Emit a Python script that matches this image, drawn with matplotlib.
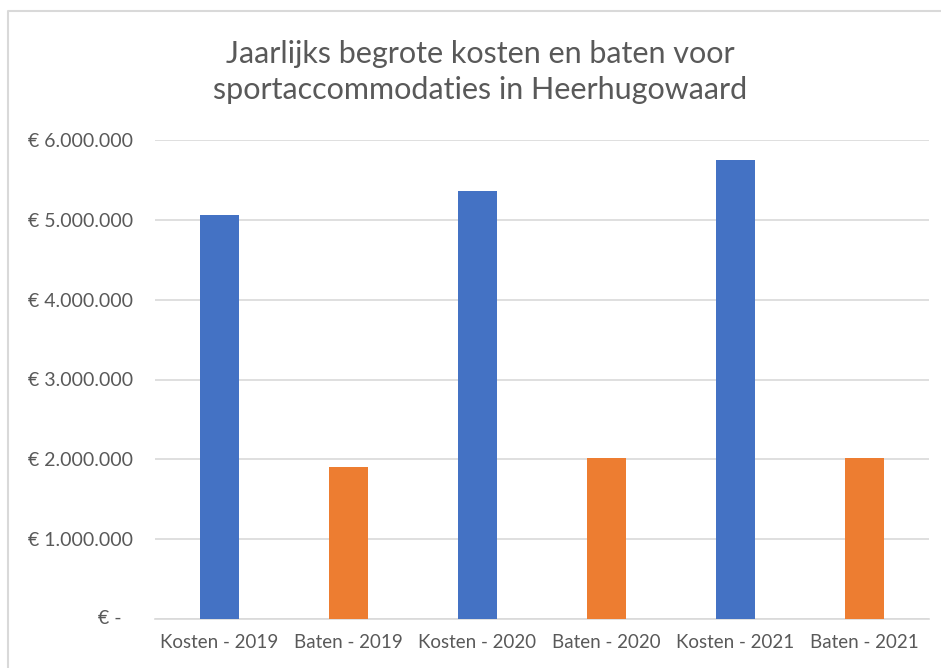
import matplotlib
matplotlib.use('Agg')
import matplotlib.pyplot as plt
from matplotlib.lines import Line2D

categories = ['Kosten - 2019', 'Baten - 2019', 'Kosten - 2020',
              'Baten - 2020', 'Kosten - 2021', 'Baten - 2021']
values = [5065000, 1910000, 5365000, 2020000, 5755000, 2020000]
bar_colors = ['#4472C4', '#ED7D31', '#4472C4', '#ED7D31', '#4472C4', '#ED7D31']
y_ticks = [0, 1000000, 2000000, 3000000, 4000000, 5000000, 6000000]

title = 'Jaarlijks begrote kosten en baten voor\nsportaccommodaties in Heerhugowaard'
text_color = '#595959'
grid_color = '#d9d9d9'

plt.rcParams['font.family'] = ['Lato', 'DejaVu Sans']

W, H = 941, 668
fig = plt.figure(figsize=(W / 100, H / 100), dpi=100)

# plot area in pixels
left, right, top, bottom = 155, 929, 140, 619
ax = fig.add_axes([left / W, 1 - bottom / H, (right - left) / W, (bottom - top) / H])

x = list(range(len(categories)))
ax.bar(x, values, width=0.31, color=bar_colors, zorder=3)

ax.set_xlim(-0.5, len(categories) - 0.5)
ax.set_ylim(0, 6000000)


def euro(v):
    if v == 0:
        return ''  # drawn separately, accounting style
    return '€ ' + f'{int(v):,}'.replace(',', '.')


ax.set_yticks(y_ticks)
ax.set_yticklabels([euro(v) for v in y_ticks])
ax.set_xticks(x)
ax.set_xticklabels(categories)

ax.tick_params(axis='both', length=0, colors=text_color)
ax.tick_params(axis='y', pad=16, labelsize=14)
ax.tick_params(axis='x', pad=11, labelsize=13.5)

# zero label sits further right, like Excel's accounting format
ax.text(-0.043, 0, '€ -', transform=ax.get_yaxis_transform(), ha='right',
        va='center', fontsize=14, color=text_color)

ax.grid(axis='y', color=grid_color, linewidth=1.2, zorder=0)
for s in ['top', 'right', 'left']:
    ax.spines[s].set_visible(False)
ax.spines['bottom'].set_color(grid_color)
ax.spines['bottom'].set_linewidth(1.2)

fig.text(480 / W, 1 - 72 / H, title, ha='center', va='center',
         fontsize=22, color=text_color, linespacing=1.32)

# chart border (top and left edges visible)
fig.add_artist(Line2D([8 / W, 8 / W, 1], [0, 1 - 11 / H, 1 - 11 / H],
                      transform=fig.transFigure, color='#d9d9d9', linewidth=1.5))

fig.savefig('out.png', dpi=100)
